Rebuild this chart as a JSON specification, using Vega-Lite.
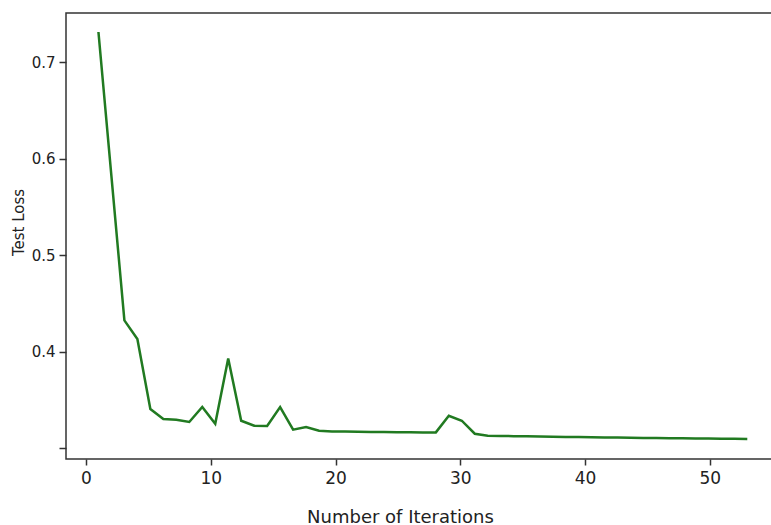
{
  "$schema": "https://vega.github.io/schema/vega-lite/v6.json",
  "autosize": "none",
  "padding": {"left": 66, "top": 13, "right": 0, "bottom": 66},
  "width": 710,
  "height": 446,
  "background": "white",
  "config": {
    "view": {"stroke": "#333333", "strokeWidth": 1.5},
    "font": "DejaVu Sans"
  },
  "data": {
    "values": [
      {"iter": 1, "loss": 0.7315},
      {"iter": 2.04, "loss": 0.582},
      {"iter": 3.08, "loss": 0.4324},
      {"iter": 4.12, "loss": 0.4131},
      {"iter": 5.16, "loss": 0.3405},
      {"iter": 6.2, "loss": 0.3301},
      {"iter": 7.24, "loss": 0.3294},
      {"iter": 8.28, "loss": 0.327},
      {"iter": 9.32, "loss": 0.3425},
      {"iter": 10.36, "loss": 0.3252},
      {"iter": 11.4, "loss": 0.3929},
      {"iter": 12.44, "loss": 0.3283},
      {"iter": 13.48, "loss": 0.3231},
      {"iter": 14.52, "loss": 0.3228},
      {"iter": 15.56, "loss": 0.3425},
      {"iter": 16.6, "loss": 0.319},
      {"iter": 17.64, "loss": 0.3218},
      {"iter": 18.68, "loss": 0.3179},
      {"iter": 19.72, "loss": 0.3172},
      {"iter": 20.76, "loss": 0.317},
      {"iter": 21.8, "loss": 0.3168},
      {"iter": 22.84, "loss": 0.3166},
      {"iter": 23.88, "loss": 0.3165},
      {"iter": 24.92, "loss": 0.3164},
      {"iter": 25.96, "loss": 0.3163},
      {"iter": 27.0, "loss": 0.3162},
      {"iter": 28.04, "loss": 0.3162},
      {"iter": 29.08, "loss": 0.3335},
      {"iter": 30.12, "loss": 0.3283},
      {"iter": 31.16, "loss": 0.3148},
      {"iter": 32.2, "loss": 0.3128},
      {"iter": 33.24, "loss": 0.3125},
      {"iter": 34.28, "loss": 0.3123},
      {"iter": 35.32, "loss": 0.3121},
      {"iter": 36.36, "loss": 0.3119},
      {"iter": 37.4, "loss": 0.3117},
      {"iter": 38.44, "loss": 0.3115},
      {"iter": 39.48, "loss": 0.3114},
      {"iter": 40.52, "loss": 0.3112},
      {"iter": 41.56, "loss": 0.311},
      {"iter": 42.6, "loss": 0.3108},
      {"iter": 43.64, "loss": 0.3107},
      {"iter": 44.68, "loss": 0.3105},
      {"iter": 45.72, "loss": 0.3104},
      {"iter": 46.76, "loss": 0.3102},
      {"iter": 47.8, "loss": 0.3101},
      {"iter": 48.84, "loss": 0.3099},
      {"iter": 49.88, "loss": 0.3098},
      {"iter": 50.92, "loss": 0.3096},
      {"iter": 51.96, "loss": 0.3095},
      {"iter": 53, "loss": 0.3093}
    ]
  },
  "mark": {"type": "line", "color": "#217a21", "strokeWidth": 2.5, "clip": true},
  "encoding": {
    "x": {
      "field": "iter",
      "type": "quantitative",
      "scale": {"domain": [-1.6, 55.3], "nice": false, "zero": false},
      "axis": {
        "values": [0, 10, 20, 30, 40, 50],
        "title": "Number of Iterations",
        "domain": false,
        "grid": false,
        "tickColor": "#333333",
        "tickSize": 6,
        "tickWidth": 1.5,
        "labelFontSize": 17,
        "labelColor": "#222222",
        "labelPadding": 5,
        "labelFont": "DejaVu Sans",
        "titleFont": "DejaVu Sans",
        "titleFontSize": 18,
        "titleFontWeight": "normal",
        "titleColor": "#222222",
        "titleX": 334,
        "titleY": 58,
        "titleAlign": "center",
        "titleBaseline": "middle"
      }
    },
    "y": {
      "field": "loss",
      "type": "quantitative",
      "scale": {"domain": [0.2886, 0.7512], "nice": false, "zero": false},
      "axis": {
        "values": [0.3, 0.4, 0.5, 0.6, 0.7],
        "labelExpr": "datum.value < 0.35 ? '' : format(datum.value, '.1f')",
        "title": "Test Loss",
        "domain": false,
        "grid": false,
        "tickColor": "#333333",
        "tickSize": 7,
        "tickWidth": 1.5,
        "labelFontSize": 15,
        "labelColor": "#222222",
        "labelPadding": 4,
        "labelFont": "DejaVu Sans",
        "titleFont": "DejaVu Sans",
        "titleFontSize": 15,
        "titleFontWeight": "normal",
        "titleColor": "#222222",
        "titleX": -48,
        "titleY": 209,
        "titleAngle": -90,
        "titleAlign": "center",
        "titleBaseline": "middle"
      }
    }
  }
}
